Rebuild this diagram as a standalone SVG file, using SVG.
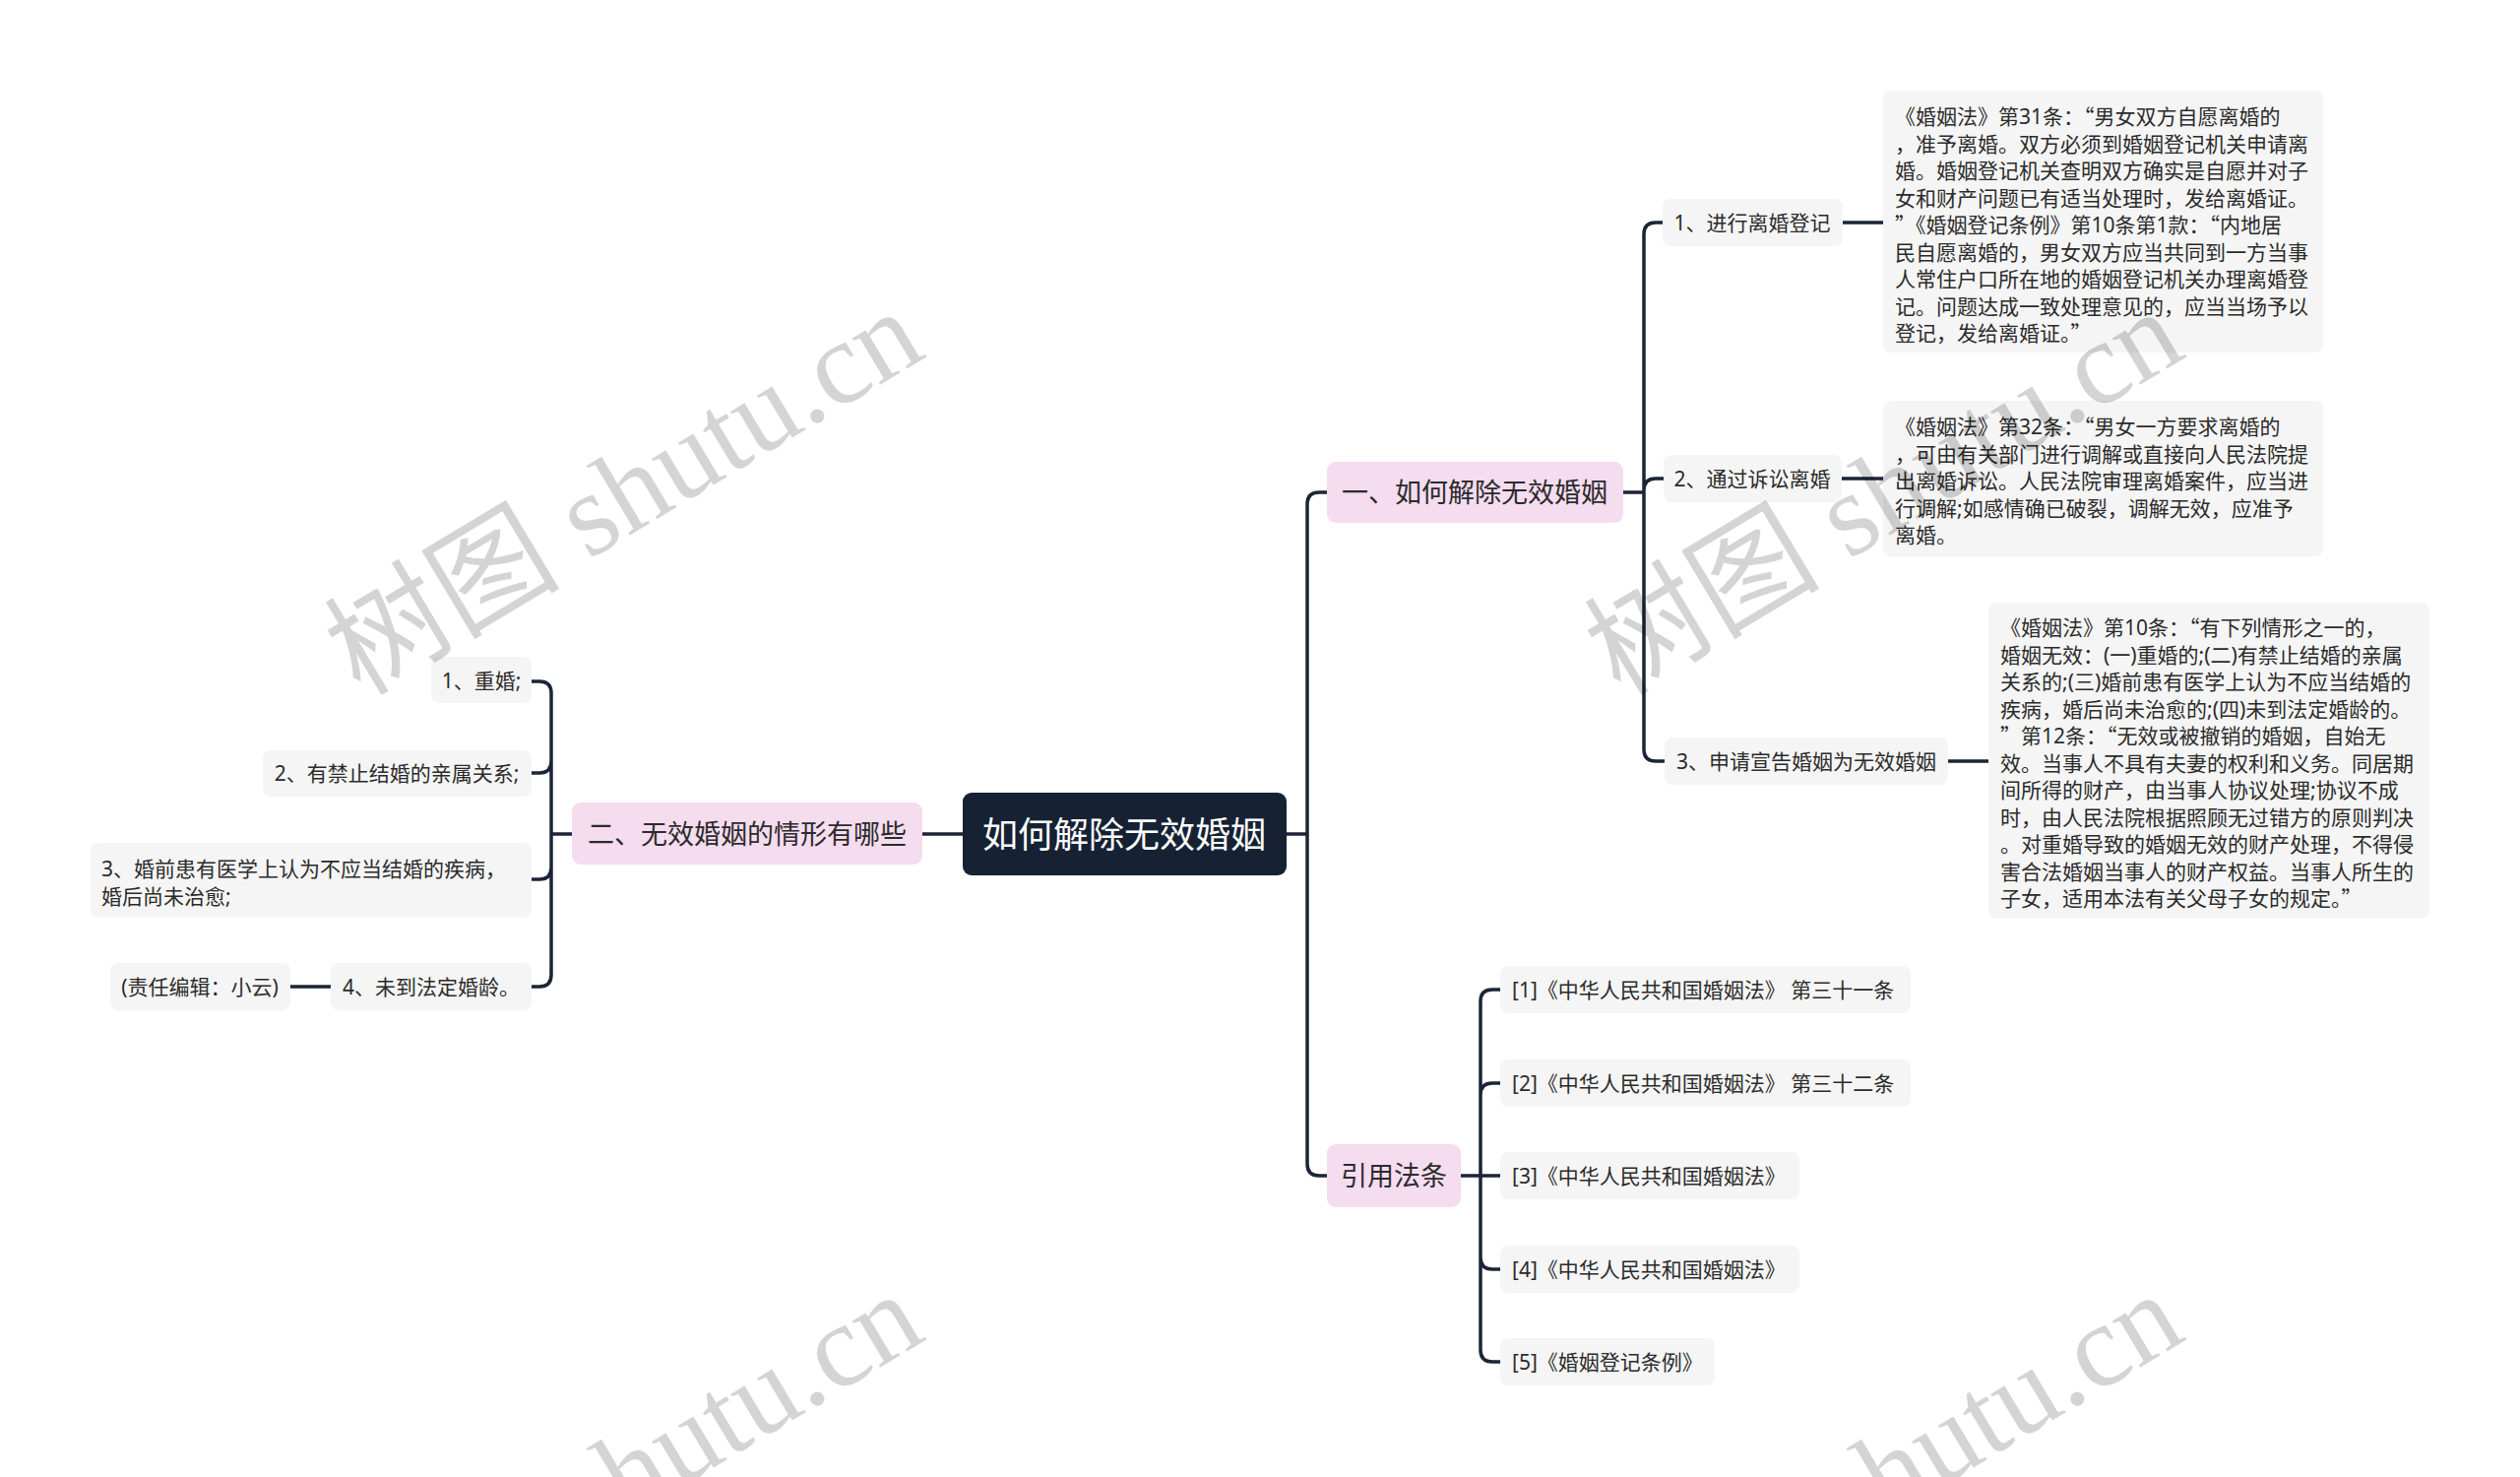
<svg xmlns="http://www.w3.org/2000/svg" width="2560" height="1500" viewBox="0 0 2560 1500">
<style>
text{font-family:"Noto Sans","Noto Sans CJK SC",sans-serif;fill:#2b2b2b}
.q{font-family:"Noto Sans CJK SC",sans-serif}
.leaf{fill:#f5f5f5}
.pink{fill:#f5dcef}
.root{fill:#162234}
.t21{font-size:21px}
.t27{font-size:27px}
.c{text-anchor:middle}
.conn path{fill:none;stroke:#1b2537;stroke-width:3.5;stroke-linecap:round}
.wm{font-family:"Liberation Serif","Noto Sans CJK SC",serif;font-size:120px;fill:#000;fill-opacity:0.17}
</style>
<rect width="2560" height="1500" fill="#fff"/>
<g class="conn">
<path d="M1307,847 H1328 M1328,1182 V512 Q1328,500 1340,500 H1348 M1328,1182 Q1328,1194 1340,1194 H1348"/>
<path d="M978,847 H937"/>
<path d="M581,847 H560 M560,704 V990 M560,704 Q560,692 548,692 H540 M560,773 Q560,785 548,785 H540 M560,881 Q560,893 548,893 H540 M560,990 Q560,1002 548,1002 H540"/>
<path d="M336,1002 H295"/>
<path d="M1649,500 H1670 M1670,238 V761 M1670,238 Q1670,226 1682,226 H1689 M1670,498 Q1670,486 1682,486 H1690 M1670,761 Q1670,773 1682,773 H1691"/>
<path d="M1872,226 H1913 M1871,486 H1913 M1979,773 H2020"/>
<path d="M1484,1194 H1504 M1504,1017 V1371 M1504,1017 Q1504,1005 1516,1005 H1524 M1504,1112 Q1504,1100 1516,1100 H1524 M1504,1194 H1524 M1504,1277 Q1504,1289 1516,1289 H1524 M1504,1371 Q1504,1383 1516,1383 H1524"/>
</g>
<g id="root"><rect class="root" x="978" y="805" width="329" height="84" rx="9"/><text x="1142" y="861" class="c" font-size="36" style="fill:#fff">如何解除无效婚姻</text></g>
<g id="b2"><rect class="pink" x="581" y="815" width="356" height="63" rx="9"/><text x="759" y="857" class="c t27">二、无效婚姻的情形有哪些</text></g>
<g id="b1"><rect class="pink" x="1348" y="469" width="301" height="62" rx="9"/><text x="1498" y="510" class="c t27">一、如何解除无效婚姻</text></g>
<g id="b3"><rect class="pink" x="1348" y="1162" width="136" height="64" rx="9"/><text x="1416" y="1204" class="c t27">引用法条</text></g>
<g id="l1"><rect class="leaf" x="438" y="667" width="102" height="47" rx="8"/><text x="489" y="699" class="c t21">1、重婚;</text></g>
<g id="l2"><rect class="leaf" x="267" y="762" width="273" height="47" rx="8"/><text x="403" y="793" class="c t21">2、有禁止结婚的亲属关系;</text></g>
<g id="l3"><rect class="leaf" x="92" y="856" width="448" height="76" rx="8"/><text class="t21"><tspan x="103" y="890">3、婚前患有医学上认为不应当结婚的疾病，</tspan><tspan x="103" y="918">婚后尚未治愈;</tspan></text></g>
<g id="l4"><rect class="leaf" x="336" y="978" width="204" height="48" rx="8"/><text x="438" y="1010" class="c t21">4、未到法定婚龄。</text></g>
<g id="l4a"><rect class="leaf" x="112" y="978" width="183" height="48" rx="8"/><text x="203" y="1010" class="c t21">(责任编辑：小云)</text></g>
<g id="r1"><rect class="leaf" x="1689" y="202" width="183" height="48" rx="8"/><text x="1780" y="234" class="c t21">1、进行离婚登记</text></g>
<g id="r2"><rect class="leaf" x="1690" y="462" width="181" height="48" rx="8"/><text x="1780" y="494" class="c t21">2、通过诉讼离婚</text></g>
<g id="r3"><rect class="leaf" x="1691" y="749" width="288" height="48" rx="8"/><text x="1835" y="781" class="c t21">3、申请宣告婚姻为无效婚姻</text></g>
<g id="dA"><rect class="leaf" x="1913" y="92" width="447" height="266" rx="8"/><text class="t21">
<tspan x="1925" y="126">《婚姻法》第31条：<tspan class="q">“</tspan>男女双方自愿离婚的</tspan>
<tspan x="1925" y="153.5">，准予离婚。双方必须到婚姻登记机关申请离</tspan>
<tspan x="1925" y="181">婚。婚姻登记机关查明双方确实是自愿并对子</tspan>
<tspan x="1925" y="208.5">女和财产问题已有适当处理时，发给离婚证。</tspan>
<tspan x="1925" y="236"><tspan class="q">”</tspan>《婚姻登记条例》第10条第1款：<tspan class="q">“</tspan>内地居</tspan>
<tspan x="1925" y="263.5">民自愿离婚的，男女双方应当共同到一方当事</tspan>
<tspan x="1925" y="291">人常住户口所在地的婚姻登记机关办理离婚登</tspan>
<tspan x="1925" y="318.5">记。问题达成一致处理意见的，应当当场予以</tspan>
<tspan x="1925" y="346">登记，发给离婚证。<tspan class="q">”</tspan></tspan></text></g>
<g id="dB"><rect class="leaf" x="1913" y="407" width="447" height="158" rx="8"/><text class="t21">
<tspan x="1925" y="441">《婚姻法》第32条：<tspan class="q">“</tspan>男女一方要求离婚的</tspan>
<tspan x="1925" y="468.5">，可由有关部门进行调解或直接向人民法院提</tspan>
<tspan x="1925" y="496">出离婚诉讼。人民法院审理离婚案件，应当进</tspan>
<tspan x="1925" y="523.5">行调解;如感情确已破裂，调解无效，应准予</tspan>
<tspan x="1925" y="551">离婚。</tspan></text></g>
<g id="dC"><rect class="leaf" x="2020" y="612" width="448" height="321" rx="8"/><text class="t21">
<tspan x="2032" y="645">《婚姻法》第10条：<tspan class="q">“</tspan>有下列情形之一的，</tspan>
<tspan x="2032" y="672.5">婚姻无效：(一)重婚的;(二)有禁止结婚的亲属</tspan>
<tspan x="2032" y="700">关系的;(三)婚前患有医学上认为不应当结婚的</tspan>
<tspan x="2032" y="727.5">疾病，婚后尚未治愈的;(四)未到法定婚龄的。</tspan>
<tspan x="2032" y="755"><tspan class="q">”</tspan>第12条：<tspan class="q">“</tspan>无效或被撤销的婚姻，自始无</tspan>
<tspan x="2032" y="782.5">效。当事人不具有夫妻的权利和义务。同居期</tspan>
<tspan x="2032" y="810">间所得的财产，由当事人协议处理;协议不成</tspan>
<tspan x="2032" y="837.5">时，由人民法院根据照顾无过错方的原则判决</tspan>
<tspan x="2032" y="865">。对重婚导致的婚姻无效的财产处理，不得侵</tspan>
<tspan x="2032" y="892.5">害合法婚姻当事人的财产权益。当事人所生的</tspan>
<tspan x="2032" y="920">子女，适用本法有关父母子女的规定。<tspan class="q">”</tspan></tspan></text></g>
<g id="c1"><rect class="leaf" x="1524" y="981" width="417" height="48" rx="8"/><text x="1536" y="1013" class="t21">[1]《中华人民共和国婚姻法》 第三十一条</text></g>
<g id="c2"><rect class="leaf" x="1524" y="1076" width="417" height="48" rx="8"/><text x="1536" y="1108" class="t21">[2]《中华人民共和国婚姻法》 第三十二条</text></g>
<g id="c3"><rect class="leaf" x="1524" y="1170" width="304" height="48" rx="8"/><text x="1536" y="1202" class="t21">[3]《中华人民共和国婚姻法》</text></g>
<g id="c4"><rect class="leaf" x="1524" y="1265" width="304" height="48" rx="8"/><text x="1536" y="1297" class="t21">[4]《中华人民共和国婚姻法》</text></g>
<g id="c5"><rect class="leaf" x="1524" y="1359" width="218" height="48" rx="8"/><text x="1536" y="1391" class="t21">[5]《婚姻登记条例》</text></g>
<g id="watermark">
<text class="wm" transform="translate(366,708) rotate(-31)">树图 shutu.cn</text>
<text class="wm" transform="translate(1646,708) rotate(-31)">树图 shutu.cn</text>
<text class="wm" transform="translate(366,1706) rotate(-31)">树图 shutu.cn</text>
<text class="wm" transform="translate(1646,1706) rotate(-31)">树图 shutu.cn</text>
</g>
</svg>
